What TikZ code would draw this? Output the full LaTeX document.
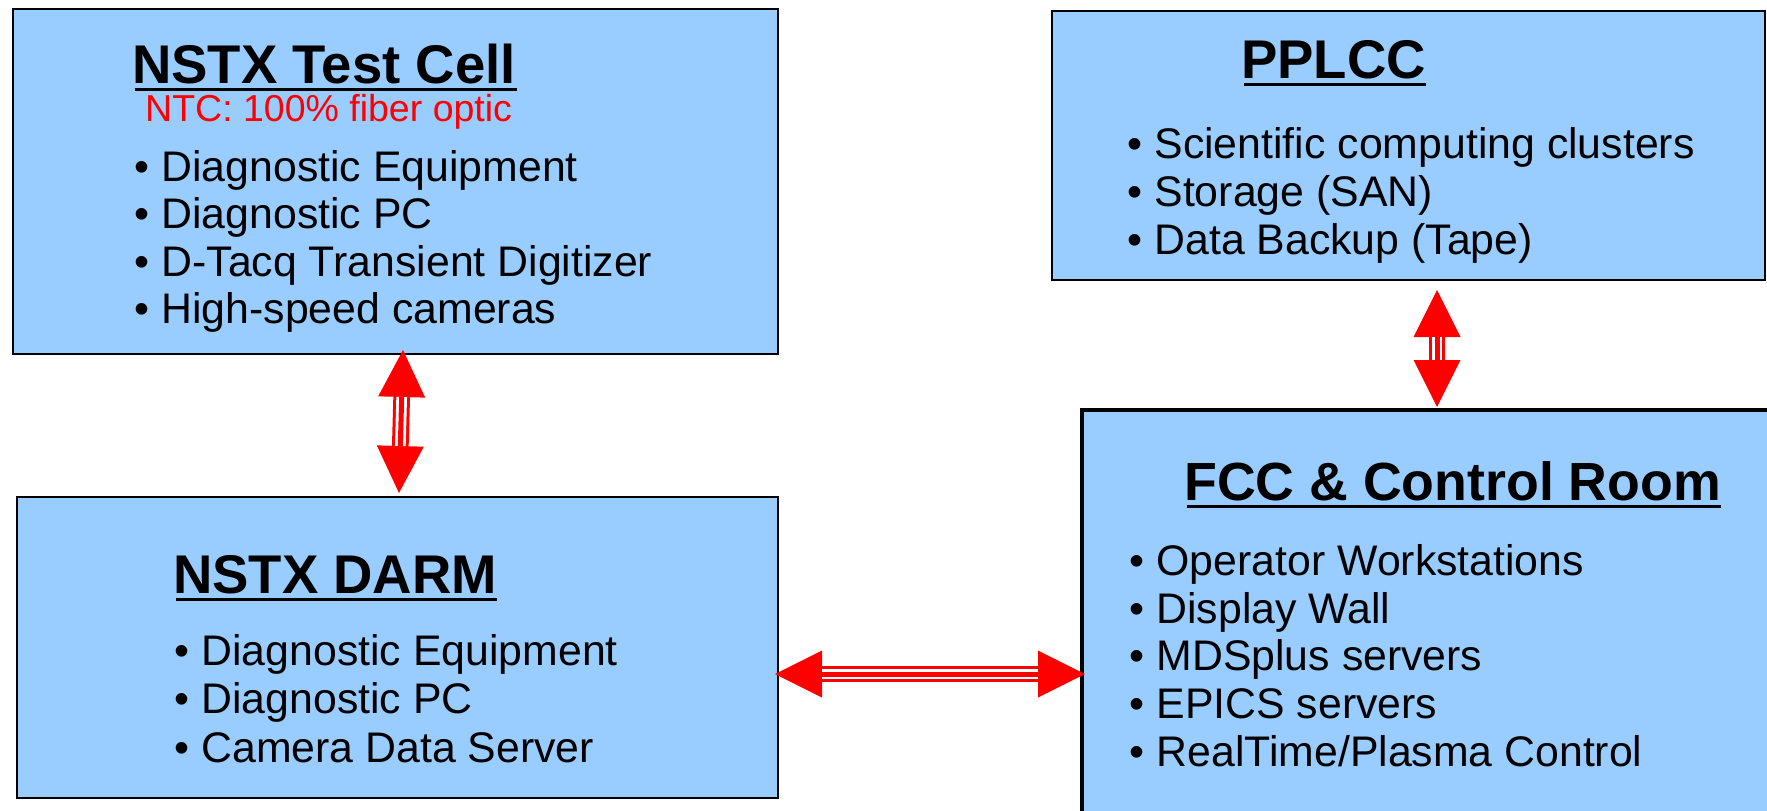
\documentclass[tikz,border=0pt]{standalone}
\usepackage{fontspec}
\setmainfont{Liberation Sans}
\usetikzlibrary{arrows.meta,calc}
\definecolor{boxblue}{RGB}{153,204,255}
\tikzset{
  box/.style={draw=black, fill=boxblue, line width=2pt, rectangle, inner sep=0pt, outer sep=0pt},
  ttl/.style={anchor=base west, inner sep=0pt, font=\fontsize{54.5}{60}\selectfont\bfseries},
  itm/.style={anchor=base west, inner sep=0pt, font=\fontsize{42.8}{50}\selectfont},
  note/.style={anchor=base west, inner sep=0pt, text=red, font=\fontsize{37.5}{42}\selectfont},
  uline/.style={line width=3pt, draw=black},
  link/.style={draw=red, line width=16.7pt,
    {Triangle[length=47pt,width=47pt,line width=0pt]}-{Triangle[length=47pt,width=47pt,line width=0pt]},
    postaction={draw=white, line width=10.7pt, -, shorten <=47pt, shorten >=47pt},
    postaction={draw=red, line width=5pt, -, shorten <=47pt, shorten >=47pt}}
}
\begin{document}
\begin{tikzpicture}[x=1pt,y=-1pt]
\useasboundingbox[fill=white] (0,0) rectangle (1767,811);

% NSTX Test Cell
\node[box, minimum width=765pt, minimum height=345pt] (TC) at (395.5,181.5) {};
\node[ttl] (TCt) at (132,83) {NSTX Test Cell};
\draw[uline] ($(TCt.base west)+(3,6)$) -- ($(TCt.base east)+(1,6)$);
\node[note] (TCn) at (145,121) {NTC: 100\% fiber optic};
\node[itm] (TC1) at (134.5,181) {• Diagnostic Equipment};
\node[itm] (TC2) at (134.5,228.5) {• Diagnostic PC};
\node[itm] (TC3) at (134.5,276) {• D-Tacq Transient Digitizer};
\node[itm] (TC4) at (134.5,323) {• High-speed cameras};

% PPLCC
\node[box, minimum width=713pt, minimum height=269pt] (PP) at (1408.5,145.5) {};
\node[ttl] (PPt) at (1241,78) {PPLCC};
\draw[uline] ($(PPt.base west)+(3,6)$) -- ($(PPt.base east)+(0,6)$);
\node[itm] (PP1) at (1127.5,158) {• Scientific computing clusters};
\node[itm] (PP2) at (1127.5,206) {• Storage (SAN)};
\node[itm] (PP3) at (1127.5,254) {• Data Backup (Tape)};

% NSTX DARM
\node[box, minimum width=761pt, minimum height=301pt] (DA) at (397.5,647.5) {};
\node[ttl] (DAt) at (173,593) {NSTX DARM};
\draw[uline] ($(DAt.base west)+(3,6)$) -- ($(DAt.base east)+(0,6)$);
\node[itm] (DA1) at (174.5,665) {• Diagnostic Equipment};
\node[itm] (DA2) at (174.5,713.5) {• Diagnostic PC};
\node[itm] (DA3) at (174.5,762) {• Camera Data Server};

% FCC & Control Room
\node[box, line width=3.5pt, minimum width=693pt, minimum height=410pt] (FC) at (1428.5,615) {};
\node[ttl, font=\fontsize{53.7}{60}\selectfont\bfseries] (FCt) at (1184,500) {FCC \& Control Room};
\draw[uline] ($(FCt.base west)+(3,6)$) -- ($(FCt.base east)+(0,6)$);
\node[itm] (FC1) at (1129.5,575) {• Operator Workstations};
\node[itm] (FC2) at (1129.5,623) {• Display Wall};
\node[itm] (FC3) at (1129.5,670) {• MDSplus servers};
\node[itm] (FC4) at (1129.5,718) {• EPICS servers};
\node[itm] (FC5) at (1129.5,766) {• RealTime/Plasma Control};

% connectors
\draw[link] ($(TC.south)+(7.5,-4)$) -- ($(DA.north)+(1.5,-4)$);
\draw[link] ($(DA.east)+(-3,26.5)$) -- ($(FC.west)+(3,59)$);
\draw[link] ($(PP.south)+(28.5,10)$) -- ($(FC.north)+(8.5,-3)$);
\end{tikzpicture}
\end{document}
